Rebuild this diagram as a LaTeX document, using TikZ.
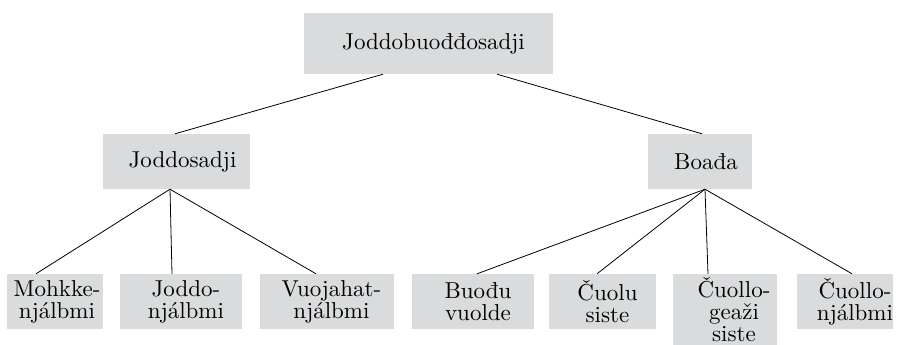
\documentclass[tikz,border=0pt]{standalone}
\usepackage{fontspec}
\setmainfont{lmroman10-regular}[Extension=.otf]
\usepackage{tikz}
\usetikzlibrary{positioning}
\definecolor{boxgray}{RGB}{217,219,220}

\begin{document}
\begin{tikzpicture}[x=1pt, y=-1pt, box/.style={fill=boxgray, inner sep=0pt, minimum height=55pt},link/.style={line width=0.8pt},every label/.append style={font=\fontsize{23}{22}\selectfont, align=center, inner sep=0pt}]
  \useasboundingbox (0,0) rectangle (897,345);

  \node[box, minimum width=249pt, minimum height=61pt, label = {[xshift=5pt]center:Joddobuođđosadji}] (root) at (428.5,43.5) {};

  \node[box, minimum width=147pt, label = {[xshift=6pt]center:Joddosadji}] (jsadji) at (176.5,161.5) {};
  \node[box, minimum width=104pt, label = {[xshift=6pt]center:Boađa}] (boada) at (700,161.5) {};

  \node[box, minimum width=96pt, label = {[xshift=2pt]center:{Mohkke-\\njálbmi}}] (mohkke) at (55,301.5) {};
  \node[box, minimum width=122pt, label = {[xshift=5pt]center:{Joddo-\\njálbmi}}] (joddo) at (181,301.5) {};
  \node[box, minimum width=134pt, label = {[xshift=4.5pt]center:{Vuojahat-\\njálbmi}}] (vuojahat) at (327,301.5) {};

  \node[box, minimum width=122pt, label = {[xshift=5pt]center:{Buođu\\vuolde}}] (buodu) at (473,301.5) {};
  \node[box, minimum width=107pt, label = {[xshift=5pt]center:{Čuolu\\siste}}] (cuolu) at (602.5,301.5) {};
  \node[box, minimum width=104pt, minimum height=71pt, label = {[xshift=9pt]center:{Čuollo-\\geaži\\siste}}] (geazi) at (725,309.5) {};
  \node[box, minimum width=96pt, label = {[xshift=10pt]center:{Čuollo-\\njálbmi}}] (njalbmi) at (845,301.5) {};

  \draw[link] ([xshift=-45.5pt]root.south) -- ([xshift=-1.5pt]jsadji.north);
  \draw[link] ([xshift=68.5pt]root.south) -- ([xshift=2pt]boada.north);

  \draw[link] ([xshift=-6.5pt]jsadji.south) -- ([xshift=-19pt]mohkke.north);
  \draw[link] ([xshift=-6.5pt]jsadji.south) -- ([xshift=-9pt]joddo.north);
  \draw[link] ([xshift=-6.5pt]jsadji.south) -- ([xshift=-11pt]vuojahat.north);

  \draw[link] ([xshift=5pt]boada.south) -- ([xshift=4pt]buodu.north);
  \draw[link] ([xshift=5pt]boada.south) -- ([xshift=-5.5pt]cuolu.north);
  \draw[link] ([xshift=5pt]boada.south) -- ([xshift=-17pt]geazi.north);
  \draw[link] ([xshift=5pt]boada.south) -- ([xshift=7pt]njalbmi.north);
 \end{tikzpicture}
\end{document}
